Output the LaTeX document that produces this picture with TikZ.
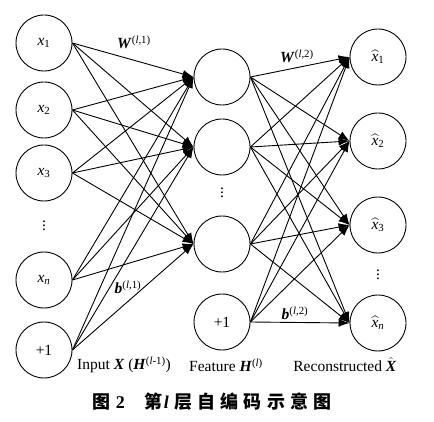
\documentclass[tikz,border=0pt]{standalone}
\usepackage{amsmath}
\usepackage{fontspec}
\setmainfont{Liberation Serif}
\newfontfamily\cjk{Noto Sans CJK SC}[LetterSpace=28]
\usetikzlibrary{arrows.meta}
\newcommand{\vx}[1]{\textit{x}\textsubscript{#1}}
\newcommand{\vhx}[1]{$\widehat{\textit{x}}$\textsubscript{#1}}
\newcommand{\bi}[1]{\textbf{\textit{#1}}}
\begin{document}
\begin{tikzpicture}[x=1pt,y=-1pt,line width=0.9pt,
  every node/.style={font=\fontsize{15.5}{18}\selectfont},
  neuron/.style={draw,circle,minimum size=56pt,inner sep=0pt},
  link/.style={-{Latex[length=11pt,width=8pt]}}]
 \useasboundingbox (0,0) rectangle (434,422);
 % input layer
 \node[neuron] (i1) at (44,43) {\vx{1}};
 \node[neuron] (i2) at (44,110) {\vx{2}};
 \node[neuron] (i3) at (44,173) {\vx{3}};
 \node at (44,223) {$\vdots$};
 \node[neuron] (in) at (44,280) {\vx{\textit{n}}};
 \node[neuron] (ib) at (44,350) {+1};
 % hidden layer
 \node[neuron] (h1) at (222,77) {};
 \node[neuron] (h2) at (222,147) {};
 \node at (222,190) {$\vdots$};
 \node[neuron] (h3) at (222,244) {};
 \node[neuron] (hb) at (222,322) {+1};
 % output layer
 \node[neuron] (o1) at (378,57) {\vhx{1}};
 \node[neuron] (o2) at (378,141) {\vhx{2}};
 \node[neuron] (o3) at (378,225) {\vhx{3}};
 \node at (378,272) {$\vdots$};
 \node[neuron] (on) at (378,323) {\vhx{\textit{n}}};
 % connections
 \foreach \a in {i1,i2,i3,in,ib}
  \foreach \b in {h1,h2,h3}
   \draw[link] (\a.east) -- (\b.west);
 \foreach \a in {h1,h2,h3,hb}
  \foreach \b in {o1,o2,o3,on}
   \draw[link] (\a.east) -- (\b.west);
 % weights
 \node at (134,42) {\bi{W}\textsuperscript{(\textit{l},1)}};
 \node at (128,287) {\bi{b}\textsuperscript{(\textit{l},1)}};
 \node at (297,56) {\bi{W}\textsuperscript{(\textit{l},2)}};
 \node at (295,313) {\bi{b}\textsuperscript{(\textit{l},2)}};
 % layer names
 \node (inlab) at (124,365) {Input \bi{X} (\bi{H}\textsuperscript{(\textit{l}-1)})};
 \node (hidlab) at (226,365) {Feature \bi{H}\textsuperscript{(\textit{l})}};
 \node (outlab) at (345,365) {Reconstructed $\hat{\text{\bi{X}}}$};
 \node (cap) at (212,402) {\fontsize{18}{20}\selectfont\bfseries
   {\cjk 图}\hspace{5pt}2\hspace{20pt}{\cjk 第}\hspace{1pt}\textit{l}\hspace{6pt}{\cjk 层自编码示意图}};
\end{tikzpicture}
\end{document}
